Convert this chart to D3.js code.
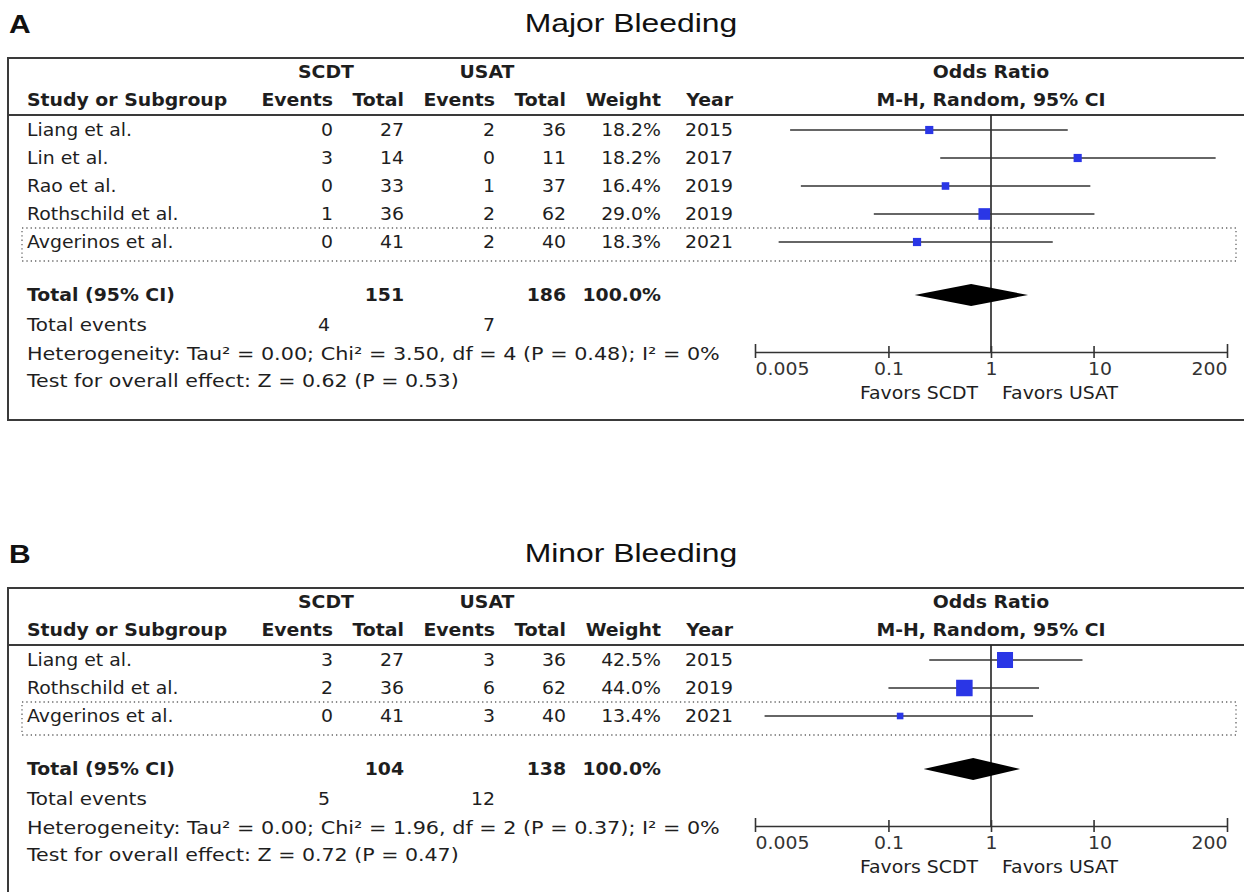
<!DOCTYPE html>
<html>
<head>
<meta charset="utf-8">
<script src="https://cdn.jsdelivr.net/npm/d3@7"></script>
<style>
  body { margin: 0; background: #fff; }
  svg { display: block; }
</style>
</head>
<body>
<script>
'use strict'

// ---- Panel A: major bleeding ----
const majorStudies = ['Liang et al.', 'Lin et al.', 'Rao et al.', 'Rothschild et al.', 'Avgerinos et al.']
const majorScdtEvents = [0, 3, 0, 1, 0]
const majorScdtTotal = [27, 14, 33, 36, 41]
const majorUsatEvents = [2, 0, 1, 2, 2]
const majorUsatTotal = [36, 11, 37, 62, 40]
const majorWeight = [18.2, 18.2, 16.4, 29.0, 18.3]
const majorYear = [2015, 2017, 2019, 2019, 2021]
const majorOR = [0.25, 7.0, 0.36, 0.86, 0.19]
const majorLow = [0.011, 0.32, 0.014, 0.072, 0.0085]
const majorHigh = [5.6, 155, 9.3, 10.2, 4.0]
const majorPooled = [0.64, 0.18, 2.3]   // OR, low, high
const majorTotals = [151, 186]
const majorEvents = [4, 7]
const majorHet = 'Heterogeneity: Tau² = 0.00; Chi² = 3.50, df = 4 (P = 0.48); I² = 0%'
const majorTest = 'Test for overall effect: Z = 0.62 (P = 0.53)'

// ---- Panel B: minor bleeding ----
const minorStudies = ['Liang et al.', 'Rothschild et al.', 'Avgerinos et al.']
const minorScdtEvents = [3, 2, 0]
const minorScdtTotal = [27, 36, 41]
const minorUsatEvents = [3, 6, 3]
const minorUsatTotal = [36, 62, 40]
const minorWeight = [42.5, 44.0, 13.4]
const minorYear = [2015, 2019, 2021]
const minorOR = [1.37, 0.55, 0.13]
const minorLow = [0.25, 0.10, 0.0062]
const minorHigh = [7.8, 2.94, 2.57]
const minorPooled = [0.67, 0.22, 1.92]
const minorTotals = [104, 138]
const minorEvents = [5, 12]
const minorHet = 'Heterogeneity: Tau² = 0.00; Chi² = 1.96, df = 2 (P = 0.37); I² = 0%'
const minorTest = 'Test for overall effect: Z = 0.72 (P = 0.47)'

const axisTicks = [0.005, 0.1, 1, 10, 200]
const axisLabels = ['0.005', '0.1', '1', '10', '200']

const W = 1244, H = 892
const FONT = "'DejaVu Sans', sans-serif"
const SX = 1.11   // the scan is stretched horizontally a bit

const svg = d3.select('body').append('svg')
  .attr('width', W)
  .attr('height', H)

const x = d3.scaleLog().domain([0.005, 200]).range([755, 1227])
const boxSize = d3.scaleLinear().domain([10, 44]).range([5.5, 16.5])

function label(g, px, py, str, o = {}) {
  return g.append('text')
    .attr('transform', `translate(${px},${py}) scale(${o.sx || SX},1)`)
    .attr('text-anchor', o.anchor || 'start')
    .attr('dy', '0.36em')
    .attr('font-family', o.family || FONT)
    .attr('font-size', o.size || 17)
    .attr('font-weight', o.bold ? 'bold' : 'normal')
    .attr('fill', o.fill || '#1e1e1e')
    .text(str)
}

function build(studies, se, st, ue, ut, w, yr, or, lo, hi) {
  return studies.map((s, i) => ({
    study: s, se: se[i], st: st[i], ue: ue[i], ut: ut[i],
    w: w[i], yr: yr[i], or: or[i], lo: lo[i], hi: hi[i]
  }))
}

const panels = [
  {
    letter: 'A', title: 'Major Bleeding', top: 0,
    rows: build(majorStudies, majorScdtEvents, majorScdtTotal, majorUsatEvents, majorUsatTotal,
                majorWeight, majorYear, majorOR, majorLow, majorHigh),
    pooled: majorPooled, totals: majorTotals, events: majorEvents, het: majorHet, test: majorTest
  },
  {
    letter: 'B', title: 'Minor Bleeding', top: 530,
    rows: build(minorStudies, minorScdtEvents, minorScdtTotal, minorUsatEvents, minorUsatTotal,
                minorWeight, minorYear, minorOR, minorLow, minorHigh),
    pooled: minorPooled, totals: minorTotals, events: minorEvents, het: minorHet, test: minorTest
  }
]

const colX = { se: 333, st: 404, ue: 495, ut: 566, w: 661, yr: 733 }

function drawPanel(p) {
  const g = svg.append('g').attr('transform', `translate(0,${p.top})`)
  const n = p.rows.length
  const rowY = i => 130 + i * 28
  const lastY = rowY(n - 1)
  const totalY = lastY + 53
  const eventsY = totalY + 30
  const hetY = eventsY + 29
  const testY = hetY + 27
  const axisY = hetY - 2

  // titles
  g.append('text')
    .attr('transform', 'translate(9,33) scale(1.2,1)')
    .attr('font-family', "'Liberation Sans', Arial, sans-serif")
    .attr('font-size', 25).attr('font-weight', 'bold').attr('fill', '#111')
    .text(p.letter)
  g.append('text')
    .attr('transform', 'translate(631,32) scale(1.25,1)')
    .attr('text-anchor', 'middle')
    .attr('font-family', "'Liberation Sans', Arial, sans-serif")
    .attr('font-size', 25.5).attr('fill', '#111')
    .text(p.title)

  // frame
  g.append('rect')
    .attr('x', 8).attr('y', 58).attr('width', 1260).attr('height', testY + 39 - 58)
    .attr('fill', 'none').attr('stroke', '#3a3a3a').attr('stroke-width', 2)
  g.append('line')
    .attr('x1', 8).attr('x2', 1260).attr('y1', 115).attr('y2', 115)
    .attr('stroke', '#3a3a3a').attr('stroke-width', 2)

  // header
  label(g, 326, 72, 'SCDT', { anchor: 'middle', bold: true })
  label(g, 487, 72, 'USAT', { anchor: 'middle', bold: true })
  label(g, 991, 72, 'Odds Ratio', { anchor: 'middle', bold: true })
  label(g, 27, 100, 'Study or Subgroup', { bold: true })
  label(g, colX.se, 100, 'Events', { anchor: 'end', bold: true })
  label(g, colX.st, 100, 'Total', { anchor: 'end', bold: true })
  label(g, colX.ue, 100, 'Events', { anchor: 'end', bold: true })
  label(g, colX.ut, 100, 'Total', { anchor: 'end', bold: true })
  label(g, colX.w, 100, 'Weight', { anchor: 'end', bold: true })
  label(g, colX.yr, 100, 'Year', { anchor: 'end', bold: true })
  label(g, 991, 100, 'M-H, Random, 95% CI', { anchor: 'middle', bold: true })

  // dotted highlight of the latest study
  g.append('rect')
    .attr('x', 22).attr('y', lastY - 14)
    .attr('width', 1214).attr('height', 33)
    .attr('fill', 'none').attr('stroke', '#666').attr('stroke-width', 1.3)
    .attr('stroke-dasharray', '1.3,3')

  // study rows
  const rows = g.selectAll('.row').data(p.rows).join('g').attr('class', 'row')
  rows.each(function (d, i) {
    const r = d3.select(this)
    const y = rowY(i)
    label(r, 27, y, d.study)
    label(r, colX.se, y, d.se, { anchor: 'end' })
    label(r, colX.st, y, d.st, { anchor: 'end' })
    label(r, colX.ue, y, d.ue, { anchor: 'end' })
    label(r, colX.ut, y, d.ut, { anchor: 'end' })
    label(r, colX.w, y, d.w.toFixed(1) + '%', { anchor: 'end' })
    label(r, colX.yr, y, d.yr, { anchor: 'end' })
  })

  // null line
  g.append('line')
    .attr('x1', x(1)).attr('x2', x(1))
    .attr('y1', 115).attr('y2', axisY)
    .attr('stroke', '#222').attr('stroke-width', 1.6)

  // CI whiskers and weight boxes
  g.selectAll('.ci').data(p.rows).join('line')
    .attr('class', 'ci')
    .attr('x1', d => x(d.lo)).attr('x2', d => x(d.hi))
    .attr('y1', (d, i) => rowY(i)).attr('y2', (d, i) => rowY(i))
    .attr('stroke', '#333').attr('stroke-width', 1.6)
  g.selectAll('.pt').data(p.rows).join('rect')
    .attr('class', 'pt')
    .attr('x', d => x(d.or) - boxSize(d.w) / 2)
    .attr('y', (d, i) => rowY(i) - boxSize(d.w) / 2)
    .attr('width', d => boxSize(d.w))
    .attr('height', d => boxSize(d.w))
    .attr('fill', '#2a36e6')

  // totals
  label(g, 27, totalY, 'Total (95% CI)', { bold: true })
  label(g, colX.st, totalY, p.totals[0], { anchor: 'end', bold: true })
  label(g, colX.ut, totalY, p.totals[1], { anchor: 'end', bold: true })
  label(g, colX.w, totalY, '100.0%', { anchor: 'end', bold: true })
  label(g, 27, eventsY, 'Total events', { sx: 1.17 })
  label(g, colX.se - 3, eventsY, p.events[0], { anchor: 'end' })
  label(g, colX.ue, eventsY, p.events[1], { anchor: 'end' })
  label(g, 27, hetY, p.het, { sx: 1.22 })
  label(g, 27, testY, p.test, { sx: 1.21 })

  const [por, plo, phi] = p.pooled
  g.append('path')
    .attr('d', `M${x(plo)},${totalY} L${x(por)},${totalY - 11} L${x(phi)},${totalY} L${x(por)},${totalY + 11} Z`)
    .attr('fill', '#000')

  // axis
  const ax = g.append('g')
    .attr('transform', `translate(0,${axisY})`)
    .call(d3.axisBottom(x).tickValues(axisTicks).tickSizeOuter(0).tickSizeInner(6)
      .tickFormat((d, i) => axisLabels[i]))
  ax.select('.domain').attr('stroke', '#333').attr('stroke-width', 1.6)
  ax.selectAll('.tick line')
    .attr('y1', (d, i) => (i === 0 || i === axisTicks.length - 1) ? -8 : -6)
    .attr('y2', 6)
    .attr('stroke', '#333').attr('stroke-width', 1.6)
  ax.selectAll('.tick text')
    .attr('y', 0)
    .attr('dy', 0)
    .attr('transform', (d, i) => `translate(${i === 3 ? 6 : 0},23) scale(${SX},1)`)
    .attr('text-anchor', (d, i) => i === 0 ? 'start' : i === axisTicks.length - 1 ? 'end' : 'middle')
    .attr('font-family', FONT)
    .attr('font-size', 17)
    .attr('fill', '#333')

  label(g, x(1) - 13, axisY + 41, 'Favors SCDT', { anchor: 'end' })
  label(g, x(1) + 11, axisY + 41, 'Favors USAT')
}

panels.forEach(drawPanel)
</script>
</body>
</html>
